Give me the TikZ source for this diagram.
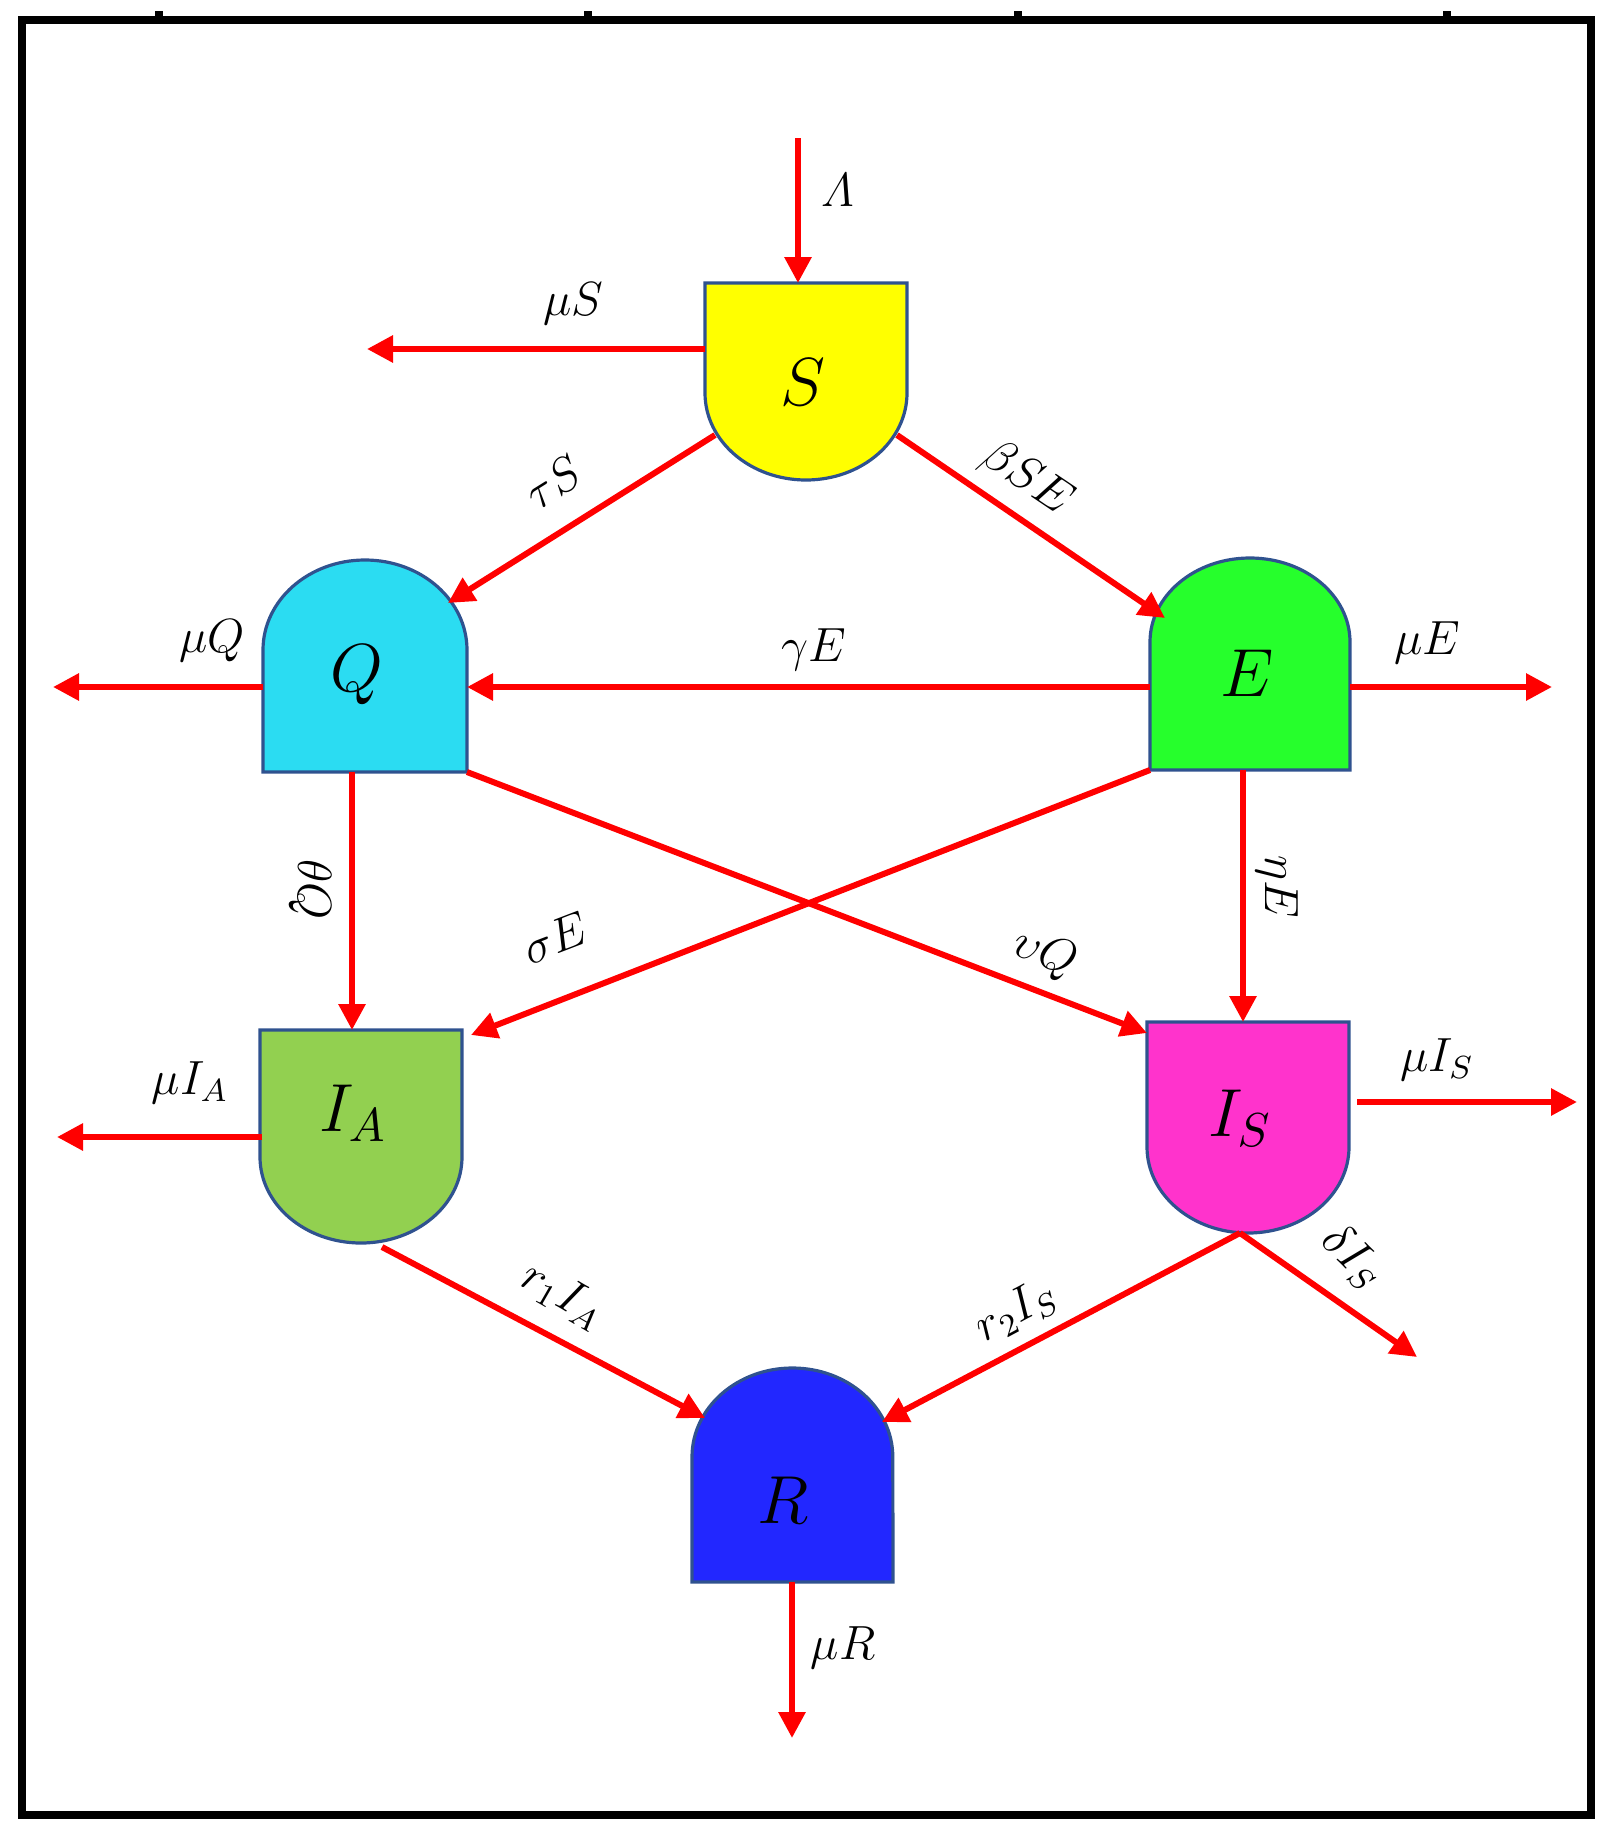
\documentclass[tikz,border=0pt]{standalone}
\usepackage{fix-cm}
\usepackage{amsmath}
\usetikzlibrary{arrows.meta}

\definecolor{flowred}{HTML}{FF0000}
\definecolor{edgeblue}{HTML}{2F528F}
\definecolor{Scol}{HTML}{FFFF00}
\definecolor{Qcol}{HTML}{2BDCF2}
\definecolor{Ecol}{HTML}{26FF2C}
\definecolor{IAcol}{HTML}{92D050}
\definecolor{IScol}{HTML}{FF33CC}
\definecolor{Rcol}{HTML}{2227FF}

\tikzset{
  flow/.style={draw=flowred, line width=1.5pt, -{Triangle[length=6.5pt,width=6.5pt]}},
  compart/.style={draw=edgeblue, line width=0.8pt},
  lbl/.style={font=\fontsize{12}{14}\selectfont, inner sep=0pt},
  cname/.style={font=\fontsize{17}{20}\selectfont, inner sep=0pt}
}

\begin{document}
\begin{tikzpicture}[x=0.25pt, y=-0.25pt]
	\useasboundingbox (0,0) rectangle (1612,1842);
	
	% frame
	\draw[line width=2pt] (22,20) rectangle (1591,1815);
	\foreach \tx in {159,588,1018,1447}
		\draw[line width=2pt] (\tx,11) -- (\tx,20);
	
	% compartments
	\filldraw[compart, fill=Scol] (705,283) -- (907,283) -- (907,393)
		arc[start angle=0, end angle=-180, x radius=25.25pt, y radius=21.75pt] -- cycle;
	\filldraw[compart, fill=Qcol] (263,772) -- (263,650)
		arc[start angle=180, end angle=0, x radius=25.5pt, y radius=22.5pt] -- (467,772) -- cycle;
	\filldraw[compart, fill=Ecol] (1150,770) -- (1150,642)
		arc[start angle=180, end angle=0, x radius=25pt, y radius=21pt] -- (1350,770) -- cycle;
	\filldraw[compart, fill=IAcol] (260,1030) -- (462,1030) -- (462,1157)
		arc[start angle=0, end angle=-180, x radius=25.25pt, y radius=21.5pt] -- cycle;
	\filldraw[compart, fill=IScol] (1147,1022) -- (1349,1022) -- (1349,1147)
		arc[start angle=0, end angle=-180, x radius=25.25pt, y radius=21.5pt] -- cycle;
	\filldraw[compart, fill=Rcol] (692,1582) -- (692,1457)
		arc[start angle=180, end angle=0, x radius=25.1pt, y radius=22.25pt] -- (893,1582) -- cycle;
	
	\node[cname] (S) at (803,382) {$S$};
	\node[cname] (Q) at (357,675) {$Q$};
	\node[cname] (E) at (1247,673) {$E$};
	\node[cname] (IA) at (353,1113) {$I_A$};
	\node[cname] (IS) at (1240,1118) {$I_S$};
	\node[cname] (R) at (783,1500) {$R$};
	
	% anchor points on the compartments
	\coordinate (S-n) at (798,283);
	\coordinate (S-w) at (705,349);
	\coordinate (S-sw) at (715,435);
	\coordinate (S-se) at (897,435);
	\coordinate (Q-ne) at (448,603);
	\coordinate (Q-e) at (467,687);
	\coordinate (Q-w) at (263,687);
	\coordinate (Q-s) at (352,772);
	\coordinate (Q-se) at (467,772);
	\coordinate (E-nw) at (1165,618);
	\coordinate (E-w) at (1150,687);
	\coordinate (E-e) at (1350,687);
	\coordinate (E-s) at (1243,770);
	\coordinate (E-sw) at (1150,770);
	\coordinate (IA-n) at (352,1030);
	\coordinate (IA-ne) at (471,1035);
	\coordinate (IA-w) at (262,1137);
	\coordinate (IA-s) at (382,1247);
	\coordinate (IS-n) at (1243,1022);
	\coordinate (IS-nw) at (1147,1033);
	\coordinate (IS-e) at (1357,1102);
	\coordinate (IS-s) at (1240,1233);
	\coordinate (R-nw) at (705,1418);
	\coordinate (R-ne) at (882,1422);
	\coordinate (R-s) at (792,1582);
	
	% free ends
	\coordinate (Lam-in) at (798,138);
	\coordinate (muS-out) at (367,349);
	\coordinate (muQ-out) at (53,687);
	\coordinate (muE-out) at (1552,687);
	\coordinate (muIA-out) at (57,1137);
	\coordinate (muIS-out) at (1577,1102);
	\coordinate (delta-out) at (1417,1357);
	\coordinate (muR-out) at (792,1738);
	
	% flows
	\draw[flow] (Lam-in) -- (S-n);
	\draw[flow] (S-w) -- (muS-out);
	\draw[flow] (S-sw) -- (Q-ne);
	\draw[flow] (S-se) -- (E-nw);
	\draw[flow] (E-w) -- (Q-e);
	\draw[flow] (Q-w) -- (muQ-out);
	\draw[flow] (E-e) -- (muE-out);
	\draw[flow] (Q-s) -- (IA-n);
	\draw[flow] (E-sw) -- (IA-ne);
	\draw[flow] (Q-se) -- (IS-nw);
	\draw[flow] (E-s) -- (IS-n);
	\draw[flow] (IA-w) -- (muIA-out);
	\draw[flow] (IS-e) -- (muIS-out);
	\draw[flow] (IA-s) -- (R-nw);
	\draw[flow] (IS-s) -- (R-ne);
	\draw[flow] (IS-s) -- (delta-out);
	\draw[flow] (R-s) -- (muR-out);
	
	% rates
	\node[lbl] (lLam) at (838,190) {$\varLambda$};
	\node[lbl] (lmuS) at (573,304) {$\mu S$};
	\node[lbl, rotate=32] (ltauS) at (553,482) {$\tau S$};
	\node[lbl, rotate=-34] (lbeta) at (1027,479) {$\beta SE$};
	\node[lbl] (lmuQ) at (212,641) {$\mu Q$};
	\node[lbl] (lgam) at (814,650) {$\gamma E$};
	\node[lbl] (lmuE) at (1427,643) {$\mu E$};
	\node[lbl, rotate=-90] (ltheta) at (310,890) {$\theta Q$};
	\node[lbl, rotate=21] (lsig) at (555,938) {$\sigma E$};
	\node[lbl, rotate=-21] (lups) at (1045,954) {$\upsilon Q$};
	\node[lbl, rotate=-90] (leta) at (1277,887) {$\eta E$};
	\node[lbl] (lmuIA) at (190,1083) {$\mu I_A$};
	\node[lbl] (lmuIS) at (1437,1060) {$\mu I_S$};
	\node[lbl, rotate=-45] (ldel) at (1353,1257) {$\delta I_S$};
	\node[lbl, rotate=-30] (lr1) at (563,1295) {$r_1 I_A$};
	\node[lbl, rotate=28] (lr2) at (1016,1311) {$r_2 I_S$};
	\node[lbl] (lmuR) at (843,1648) {$\mu R$};
\end{tikzpicture}
\end{document}
